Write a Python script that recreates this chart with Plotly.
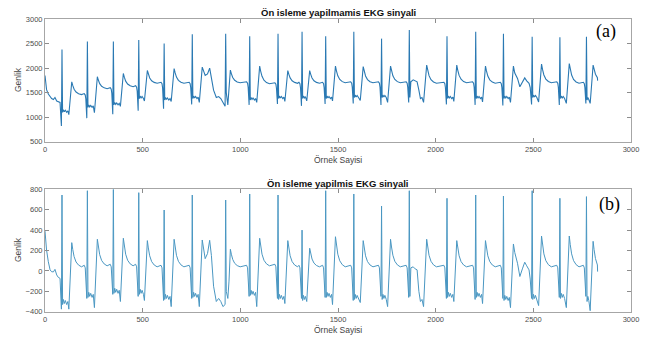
import plotly.graph_objects as go

# ---------------- data ----------------
sample_end = 2829

# R-peak sample positions and R->T offsets (samples) for each beat
r_pos = [87, 217, 350, 480, 610, 754, 925, 1048, 1193, 1316, 1437, 1581, 1723, 1865, 2058, 2205, 2347, 2494, 2636, 2772]
t_off = [50, 51, 51, 44, 51, 51, 24, 51, 50, 39, 50, 48, 46, 89, 50, 50, 51, 48, 48, 34]

# (a) raw signal levels per beat
raw_R = [2380, 2540, 2540, 2570, 2500, 2690, 2700, 2650, 2700, 2740, 2650, 2740, 2600, 2776, 2650, 2740, 2700, 2640, 2630, 2640]
raw_Q = [820, 980, 1060, 1130, 1170, 1260, 1220, 1250, 1270, 1230, 1270, 1280, 1250, 1300, 1260, 1250, 1240, 1260, 1250, 1280]
raw_S = [1100, 1200, 1250, 1380, 1350, 1380, 1250, 1350, 1380, 1380, 1380, 1400, 1400, 1700, 1380, 1380, 1380, 1400, 1380, 1350]
raw_M = [1050, 1090, 1220, 1330, 1320, 1300, None, 1300, 1320, 1330, 1330, 1340, 1300, None, 1320, 1310, 1300, 1310, 1280, 1280]
raw_T = [1720, 1825, 1890, 1950, 1990, 2020, 1960, 2040, 1950, 1950, 2040, 2030, 2040, 2060, 2060, 2040, 2040, 2080, 2090, 2060]
raw_P = [1460, 1580, 1620, 1690, 1690, 1800, 1700, 1680, 1690, 1690, 1700, 1700, 1700, 1690, 1700, 1690, 1700, 1700, 1690, 1740]

# (b) pre-processed signal levels per beat
pro_R = [744, 786, 800, 767, 597, 744, 695, 754, 744, 400, 786, 754, 636, 786, 712, 744, 734, 786, 712, 728]
pro_Q = [-375, -270, -230, -250, -290, -270, -330, -250, -270, -270, -260, -290, -250, -260, -270, -280, -270, -270, -260, -250]
pro_S = [-330, -260, -220, -230, -280, -260, -260, -240, -280, -290, -260, -280, -280, 30, -260, -260, -290, -280, -270, -300]
pro_M = [-375, -360, -300, -290, -350, -350, None, -350, -320, -300, -330, -310, -350, None, -300, -320, -360, -340, -360, -390]
pro_T = [277, 310, 320, 297, 310, 303, 212, 320, 297, 222, 335, 297, 310, 310, 297, 297, 264, 342, 342, 290]
pro_P = [40, 50, 50, 40, 40, 120, 40, 50, 40, 40, 40, 40, 40, 40, 40, 40, 40, 40, 40, 0]

# irregular stretches read point by point
irr_x = [
    [0, 4, 8, 17, 26, 34, 43, 51, 60, 68, 77],
    [820, 832, 843, 852, 863, 877, 889, 900, 911],
    [928, 936, 942],
    [1868, 1873, 1885, 1895, 1905, 1914, 1922, 1930, 1938],
    [2405, 2419, 2431, 2444, 2456, 2466, 2478, 2484],
]
irr_raw = [
    [1850, 1700, 1560, 1470, 1420, 1380, 1360, 1400, 1330, 1310, 1300],
    [1850, 1880, 2000, 1800, 1550, 1400, 1420, 1380, 1300],
    [1500, 1250, 1600],
    [1400, 1720, 1760, 1740, 1720, 1550, 1380, 1400, 1300],
    [1900, 1790, 1620, 1700, 1800, 1740, 1690, 1600],
]
irr_pro = [
    [390, 300, 205, 90, 10, -8, -10, 15, -40, -63, -73],
    [120, 170, 300, 150, -150, -300, -270, -300, -350],
    [-200, -270, -100],
    [-250, 30, 40, 20, 10, -200, -300, -280, -350],
    [180, 75, -55, 20, 85, 50, 10, -80],
]
irr_span = [(0, 83), (808, 921), (926, 948), (1867, 1941), (2400, 2488)]
end_raw, end_pro = 1745, -7

x_ticks = [0, 500, 1000, 1500, 2000, 2500, 3000]
raw_ticks = [500, 1000, 1500, 2000, 2500, 3000]
pro_ticks = [-400, -200, 0, 200, 400, 600, 800]

# ---------------- beat-shape vertex layout (style) ----------------
PRE_DX = [-16, -11, -8]
WIG_DX = [3, 7, 12, 17, 24, 30]
WIG_DY = [0, 50, 10, 40, 0, 30]
DEC_DX = [5, 12, 22, 35, 50]
DEC_FR = [0.72, 0.42, 0.2, 0.07, 0.0]


def build(R, Q, S, M, T, P, pre_dv, irr_y, end_y):
    pts = []
    for i, r in enumerate(r_pos):
        if i > 0:
            for dx, dv in zip(PRE_DX, pre_dv):
                pts.append((r + dx, P[i - 1] + dv))
        pts.append((r - 3, Q[i]))
        pts.append((r, R[i]))
        t = r + t_off[i]
        lim = t_off[i] - (18 if M[i] is not None else 6)
        for dx, dy in zip(WIG_DX, WIG_DY):
            if dx < lim:
                pts.append((r + dx, S[i] + dy))
        if M[i] is not None:
            pts.append((t - 15, M[i]))
        pts.append((t, T[i]))
        for dx, fr in zip(DEC_DX, DEC_FR):
            pts.append((t + dx, P[i] + fr * (T[i] - P[i])))
    for (a, b), xs, ys in zip(irr_span, irr_x, irr_y):
        pts = [p for p in pts if not (a <= p[0] <= b)]
        pts += list(zip(xs, ys))
    pts = [p for p in pts if p[0] < sample_end]
    pts.append((sample_end, end_y))
    pts.sort(key=lambda p: p[0])
    return [p[0] for p in pts], [p[1] for p in pts]


rx, ry = build(raw_R, raw_Q, raw_S, raw_M, raw_T, raw_P, [20, -10, -90], irr_raw, end_raw)
px, py = build(pro_R, pro_Q, pro_S, pro_M, pro_T, pro_P, [15, -10, -110], irr_pro, end_pro)

fig = go.Figure()
fig.add_trace(go.Scatter(x=rx, y=ry, mode="lines", line=dict(color="#2a79b3", width=1.1),
                         xaxis="x", yaxis="y", showlegend=False))
fig.add_trace(go.Scatter(x=px, y=py, mode="lines", line=dict(color="#4a97c2", width=1),
                         xaxis="x2", yaxis="y2", showlegend=False))

W, H = 647, 340
xdom = [45 / W, 631 / W]
axis_style = dict(showline=True, linecolor="#a6a6a6", linewidth=1, mirror="ticks", automargin=False,
                  ticks="inside", ticklen=4, tickcolor="#8c8c8c", showgrid=False, zeroline=False,
                  tickfont=dict(family="Liberation Sans, Arial", size=7.5, color="#4d4d4d"))

fig.update_layout(
    width=W, height=H, margin=dict(l=0, r=0, t=0, b=0),
    paper_bgcolor="white", plot_bgcolor="white",
    xaxis=dict(domain=xdom, range=[0, 3000], tickvals=x_ticks, anchor="y", **axis_style),
    yaxis=dict(domain=[1 - 141.7 / H, 1 - 19 / H], range=[500, 3000], tickvals=raw_ticks, anchor="x", **axis_style),
    xaxis2=dict(domain=xdom, range=[0, 3000], tickvals=x_ticks, anchor="y2", **axis_style),
    yaxis2=dict(domain=[1 - 311.7 / H, 1 - 189.3 / H], range=[-400, 800], tickvals=pro_ticks, anchor="x2", **axis_style),
)

ann = []
def txt(x, y, s, size=8, color="#333", bold=False, angle=0, family="Liberation Sans, Arial"):
    ann.append(dict(x=x / W, y=1 - y / H, xref="paper", yref="paper", text=(f"<b>{s}</b>" if bold else s),
                    showarrow=False, textangle=angle, xanchor="center", yanchor="middle",
                    font=dict(family=family, size=size, color=color)))

cx = (45 + 631) / 2
txt(cx, 13, "Ön isleme yapilmamis EKG sinyali", size=9.5, color="#111", bold=True)
txt(cx, 183, "Ön isleme yapilmis EKG sinyali", size=9.5, color="#111", bold=True)
txt(cx, 160, "Örnek Sayisi", size=8.5, color="#444")
txt(cx, 330, "Örnek Sayisi", size=8.5, color="#444")
txt(18, 80, "Genlik", size=8.5, color="#444", angle=-90)
txt(18, 250, "Genlik", size=8.5, color="#444", angle=-90)
txt(606, 31, "(a)", size=18, color="#000", family="Liberation Serif, Times New Roman")
txt(609, 204, "(b)", size=18, color="#000", family="Liberation Serif, Times New Roman")
fig.update_layout(annotations=ann)

fig.write_html("out.html", config={"displayModeBar": False},
               post_script="document.body.style.margin='0';document.body.style.overflow='hidden';")
